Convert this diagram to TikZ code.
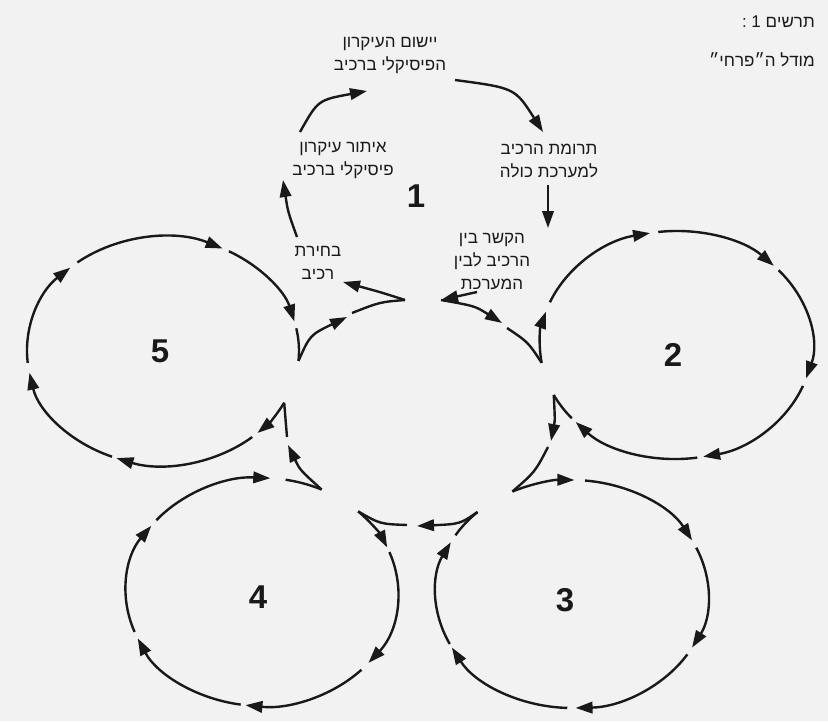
\documentclass[tikz,border=0pt]{standalone}
\usepackage{fontspec}
\setmainfont{Liberation Sans}
\TeXXeTstate=1
\usetikzlibrary{arrows.meta}
\definecolor{ink}{RGB}{25,25,25}
\definecolor{paper}{RGB}{242,242,242}
\newcommand\petalarrows[3]{%
  \foreach \sa/\sb in {#3}{%
    \draw[ar] (#1,#2) ++(\sa:136 and 114) arc[start angle=\sa,end angle=\sb,x radius=136,y radius=114];}}
\newcommand\petalplain[4]{%
  \draw[inkline] (#1,#2) ++(#3:136 and 114) arc[start angle=#3,end angle=#4,x radius=136,y radius=114];}
\begin{document}
\begin{tikzpicture}[x=1pt,y=-1pt,
  inkline/.style={draw=ink,line width=2.4pt},
  ar/.style={inkline,-{Triangle[length=17pt,width=11.5pt]}},
  heb/.style={font=\fontsize{17}{23}\selectfont,text=ink,align=center,inner sep=0pt},
  num/.style={font=\fontsize{33}{33}\selectfont\bfseries,text=ink}]
\path[use as bounding box,fill=paper] (0,0) rectangle (828,721);

% ---- cusp coordinates (on the petals) ----
\path (163,351) ++(27:136 and 114) coordinate (c5s);
\path (163,351) ++(365:136 and 114) coordinate (c5e);
\path (676,345) ++(171:136 and 114) coordinate (c2s);
\path (676,345) ++(514:136 and 114) coordinate (c2e);
\path (572,594) ++(244:136 and 114) coordinate (c3s);
\path (572,594) ++(586:136 and 114) coordinate (c3e);
\path (262,592) ++(315:136 and 114) coordinate (c4s);
\path (262,592) ++(656:136 and 114) coordinate (c4e);
\coordinate (c1s) at (405,300);
\coordinate (c1e) at (441,300);

% ---- petals 2..5 ----
\petalarrows{163}{351}{27/46,49/110,112/169,174/227,231/296,299/345}
\petalplain{163}{351}{348.5}{365}
\petalarrows{676}{345}{171/197,202/259,262.5/316,319/377,381/438.5,441/497.5}
\petalplain{676}{345}{500}{514}
\petalarrows{572}{594}{244/271,275.5/332,336/388,392/448.5,452/512,514/567}
\petalplain{572}{594}{571}{586}
\petalarrows{262}{592}{315/337,339.5/398.5,403/457,459/516,519.5/575.5,579/633.5}
\petalplain{262}{592}{640}{656}

% ---- inner connecting strokes ----
\coordinate (m51a) at (347,317); \coordinate (m51b) at (352,313);
\draw[ar] (c5e) .. controls (310,335) .. (m51a);
\draw[inkline] (m51b) .. controls (380,302) .. (c1s);
\coordinate (m12a) at (502,323); \coordinate (m12b) at (507,328);
\draw[ar] (c1e) .. controls (475,306) .. (m12a);
\draw[inkline] (m12b) .. controls (528,342) .. (c2s);
\coordinate (m23a) at (551,441); \coordinate (m23b) at (548,447);
\draw[ar] (c2e) .. controls (555,420) .. (m23a);
\draw[inkline] (m23b) .. controls (535,472) .. (c3s);
\coordinate (m34a) at (417,526); \coordinate (m34b) at (407,525);
\draw[ar] (c3e) .. controls (460,524) .. (m34a);
\draw[inkline] (m34b) .. controls (380,524) .. (c4s);
\coordinate (m45a) at (288,445); \coordinate (m45b) at (287,437);
\draw[ar] (c4e) .. controls (300,470) .. (m45a);
\draw[inkline] (m45b) .. controls (285,420) .. (c5s);

% ---- texts ----
\node[heb,anchor=east] (fig) at (815,22) {\beginR תרשים 1 :\endR};
\node[heb,anchor=east] (model) at (815,60) {\beginR מודל ה״פרחי״\endR};
\node[heb] (yishum) at (390,56) {\beginR יישום העיקרון\endR\\\beginR הפיסיקלי ברכיב\endR};
\node[heb] (itur) at (343,161) {\beginR איתור עיקרון\endR\\\beginR פיסיקלי ברכיב\endR};
\node[heb] (truma) at (549,161) {\beginR תרומת הרכיב\endR\\\beginR למערכת כולה\endR};
\node[heb] (kesher) at (492,262) {\beginR הקשר בין\endR\\\beginR הרכיב לבין\endR\\\beginR המערכת\endR};
\node[heb] (bechira) at (318,263) {\beginR בחירת\endR\\\beginR רכיב\endR};

\node[num] (n1) at (416,196) {1};
\node[num] (n5) at (160,351) {5};
\node[num] (n2) at (673,355) {2};
\node[num] (n4) at (258,597) {4};
\node[num] (n3) at (565,600) {3};

% ---- petal 1 arrows between texts ----
\coordinate (b1) at (343,282);
\draw[ar] (c1s) .. controls (380,292) .. (b1);
\coordinate (b2s) at (297,237); \coordinate (b2e) at (283,180);
\draw[ar] (b2s) .. controls (288,212) .. (b2e);
\coordinate (b3s) at (300,132); \coordinate (b3e) at (367,91);
\draw[ar] (b3s) .. controls (318,100) .. (b3e);
\coordinate (b4s) at (455,80); \coordinate (b4e) at (543,132);
\draw[ar] (b4s) .. controls (515,88) .. (b4e);
\coordinate (b5s) at (548,185); \coordinate (b5e) at (548,228);
\draw[ar] (b5s) -- (b5e);
\coordinate (b6s) at (477,292);
\draw[ar] (b6s) -- (c1e);
\end{tikzpicture}
\end{document}
